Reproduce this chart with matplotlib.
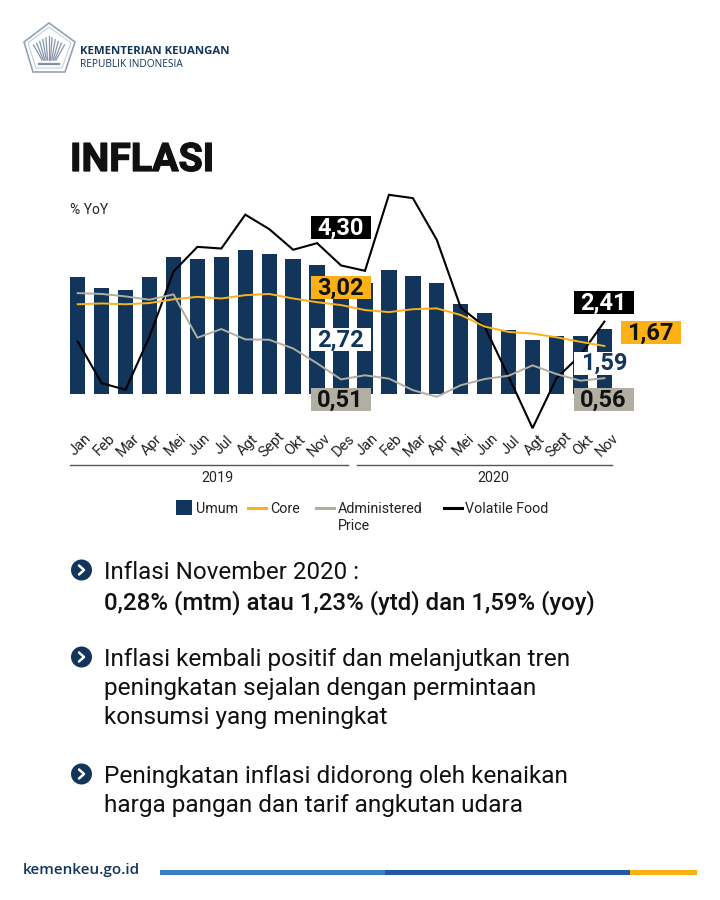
import matplotlib
matplotlib.use("Agg")
import matplotlib.pyplot as plt
import matplotlib.patheffects as pe
from matplotlib.patches import Polygon, Circle, Rectangle

plt.rcParams['font.family'] = ['Roboto', 'DejaVu Sans']

months = ["Jan","Feb","Mar","Apr","Mei","Jun","Jul","Agt","Sept","Okt","Nov","Des",
          "Jan","Feb","Mar","Apr","Mei","Jun","Jul","Agt","Sept","Okt","Nov"]
umum = [2.83,2.57,2.52,2.83,3.32,3.27,3.32,3.50,3.39,3.27,3.12,2.72,
        2.69,3.00,2.87,2.69,2.18,1.98,1.55,1.32,1.42,1.40,1.59]
core = [2.18,2.20,2.18,2.21,2.30,2.36,2.32,2.40,2.43,2.32,2.23,2.16,
        2.04,1.99,2.06,2.08,1.92,1.64,1.51,1.47,1.38,1.27,1.17]
admin = [2.45,2.43,2.37,2.29,2.42,1.37,1.58,1.33,1.32,1.11,0.75,0.36,
         0.46,0.38,0.10,-0.06,0.22,0.37,0.45,0.70,0.49,0.33,0.39]
volatile = [1.28,0.27,0.11,1.40,2.97,3.57,3.53,4.35,4.00,3.50,3.66,3.12,
            2.99,4.83,4.75,3.74,2.10,1.64,0.43,-0.82,0.39,0.95,1.76]

NAVY = "#12355b"; GOLD = "#fcb116"; GREY = "#b1aea2"; BLACK = "#000000"; TXT = "#111111"
W, H = 720, 900
fig = plt.figure(figsize=(W/100, H/100), dpi=100, facecolor="white")

# axes placed so that category spacing and value scale match the reference
x0, dx, y0, dy = 77.7, 23.94, 394.3, 41.3
L, R, T, B = 65, 620, 180, 440
ax = fig.add_axes([L/W, 1-B/H, (R-L)/W, (B-T)/H])
ax.set_xlim((L-x0)/dx, (R-x0)/dx); ax.set_ylim((y0-B)/dy, (y0-T)/dy)
ax.axis("off"); ax.patch.set_alpha(0)
xs = list(range(len(months)))
ax.bar(xs, umum, width=0.64, color=NAVY, zorder=1)
ax.plot(xs, volatile, color=BLACK, lw=1.5, zorder=2, solid_joinstyle="miter")
ax.plot(xs, core, color=GOLD, lw=1.4, zorder=3)
ax.plot(xs, admin, color=GREY, lw=1.4, zorder=3)

ax2 = fig.add_axes([0, 0, 1, 1]); ax2.set_xlim(0, W); ax2.set_ylim(H, 0); ax2.axis("off"); ax2.patch.set_alpha(0)

def tag(x, y, w, h, s, fc, tc, fs=17):
    ax2.add_patch(Rectangle((x, y), w, h, fc=fc, ec="none", zorder=5))
    ax2.text(x+w/2-0.5, y+h/2+0.5, s, color=tc, fontsize=fs, fontweight="bold", ha="center", va="center", zorder=6)

tag(311, 216, 60, 23, "4,30", BLACK, "white")
tag(311, 276, 60, 23, "3,02", GOLD, TXT)
tag(311, 328, 60, 23, "2,72", "white", NAVY)
tag(311, 388, 60, 23, "0,51", GREY, TXT)
tag(574, 291, 60, 23, "2,41", BLACK, "white")
tag(621, 321, 60, 23, "1,67", GOLD, TXT)
tag(574, 352, 42, 23, "", "white", NAVY)
ax2.text(604, 363.5, "1,59", color=NAVY, fontsize=17, fontweight="bold", ha="center", va="center", zorder=6)
tag(574, 388, 60, 23, "0,56", GREY, TXT)

for i, m in enumerate(months):
    ax2.text(x0+dx*i+2.5, 445, m, rotation=45, fontsize=10.6, color="#222222", ha="center", va="center")

ax2.plot([70, 348], [464.5, 464.5], color="#555555", lw=1)
ax2.plot([357, 612], [464.5, 464.5], color="#555555", lw=1)
ax2.text(217, 478, "2019", fontsize=10.3, color="#222222", ha="center", va="center")
ax2.text(493, 478, "2020", fontsize=10.3, color="#222222", ha="center", va="center")
ax2.text(70, 210.5, "% YoY", fontsize=10, color="#222222", va="center")

# legend
ax2.add_patch(Rectangle((176, 500), 16, 15, fc=NAVY, ec="none"))
ax2.text(196, 509, "Umum", fontsize=10.3, color="#222222", va="center")
ax2.plot([248, 266], [507.5, 507.5], color=GOLD, lw=2.2)
ax2.text(270, 509, "Core", fontsize=10.3, color="#222222", va="center")
ax2.plot([316, 334], [507.5, 507.5], color=GREY, lw=2.2)
ax2.text(338, 509, "Administered", fontsize=10.3, color="#222222", va="center")
ax2.text(338, 526, "Price", fontsize=10.3, color="#222222", va="center")
ax2.plot([444, 462], [507.5, 507.5], color=BLACK, lw=2.2)
ax2.text(465, 509, "Volatile Food", fontsize=10.3, color="#222222", va="center")

# title
t = ax2.text(70, 160.5, "INFLASI", fontsize=28.3, fontweight="bold", color=TXT, va="center")
t.set_path_effects([pe.withStroke(linewidth=0.9, foreground=TXT)])

# header logo
ax2.add_patch(Polygon([(49,23),(75,42),(65,72),(33,72),(24,42)], closed=True, fc="white", ec="#93a2b5", lw=1.2))
ax2.add_patch(Polygon([(49,27),(71,43),(62,68),(36,68),(28,43)], closed=True, fc="white", ec="#c0cad6", lw=0.7))
for k in range(-5, 6):
    ax2.plot([49+k*1.4, 49+k*3.1], [60, 36+abs(k)*1.8], color="#8495a9", lw=0.9)
ax2.plot([39, 59], [63.5, 63.5], color="#7f90a5", lw=1.6)
ax2.text(80, 52, "KEMENTERIAN KEUANGAN", fontsize=8.2, fontweight="bold", color=NAVY, va="center",
         family=["Open Sans", "DejaVu Sans"])
ax2.text(80, 64.5, "REPUBLIK INDONESIA", fontsize=7.3, color=NAVY, va="center",
         family=["Open Sans", "DejaVu Sans"])

# bullets
def bullet(y):
    ax2.add_patch(Circle((81.5, y), 10.5, fc=NAVY, ec="none"))
    ax2.plot([79, 84, 79], [y-4.5, y, y+4.5], color="white", lw=1.8, solid_capstyle="round")
bullet(570); bullet(657); bullet(774)
lines = [(572.5, "Inflasi November 2020 :", "normal", 17.4),
         (602.5, "0,28% (mtm) atau 1,23% (ytd) dan 1,59% (yoy)", "medium", 17.3),
         (659.5, "Inflasi kembali positif dan melanjutkan tren", "normal", 17.55),
         (688.5, "peningkatan sejalan dengan permintaan", "normal", 17.6),
         (717.5, "konsumsi yang meningkat", "normal", 17.6),
         (776.5, "Peningkatan inflasi didorong oleh kenaikan", "normal", 17.55),
         (805.5, "harga pangan dan tarif angkutan udara", "normal", 17.55)]
for y, s, w, fs in lines:
    ax2.text(104, y, s, fontsize=fs, fontweight=w, color=TXT, va="center")

# footer
ax2.text(23, 870, "kemenkeu.go.id", fontsize=11, fontweight="semibold", color=NAVY, va="center",
         family=["Open Sans", "DejaVu Sans"])
ax2.add_patch(Rectangle((160, 870), 225, 5, fc="#3a7fc1", ec="none"))
ax2.add_patch(Rectangle((385, 870), 245, 5, fc="#1f5aa6", ec="none"))
ax2.add_patch(Rectangle((630, 870), 67, 5, fc=GOLD, ec="none"))

fig.savefig("out.png", dpi=100, facecolor="white")
